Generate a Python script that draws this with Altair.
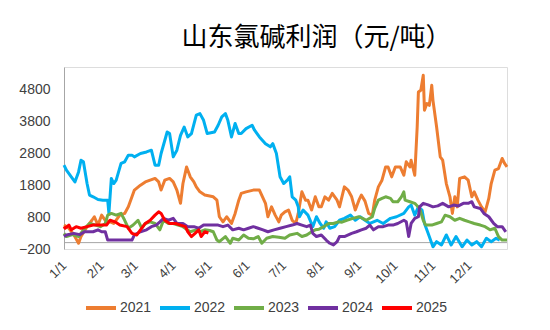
import json
import altair as alt
import pandas as pd

years = ["2021", "2022", "2023", "2024", "2025"]
colors = ["#ED7D31", "#00B0F0", "#70AD47", "#7030A0", "#FF0000"]

month_days = [0, 31, 59, 90, 120, 151, 181, 212, 243, 273, 304, 334]
month_labels = ["1/1", "2/1", "3/1", "4/1", "5/1", "6/1", "7/1", "8/1", "9/1", "10/1", "11/1", "12/1"]
y_ticks = [-200, 800, 1800, 2800, 3800, 4800]

day_2021 = [0, 4, 8, 12, 14, 19, 23, 25, 28, 31, 34, 38, 41, 46, 50, 53, 56, 58, 63, 67, 71, 75, 78, 80, 83, 87, 90, 93, 96, 98,
            101, 104, 107, 109, 112, 116, 123, 126, 128, 131, 134, 138, 141, 144, 146, 150, 156, 161, 166, 168, 171, 174, 177, 179,
            182, 185, 188, 191, 193, 196, 199, 201, 204, 207, 210, 212, 215, 218, 221, 225, 227, 231, 234, 237, 240, 243, 245, 248,
            251, 254, 256, 259, 262, 265, 267, 270, 273, 277, 280, 282, 285, 286, 289, 291, 292, 294, 296, 297, 299, 301, 303, 304,
            307, 310, 312, 315, 318, 320, 322, 324, 326, 330, 333, 336, 338, 341, 344, 347, 350, 352, 355, 358, 361, 363, 365]
val_2021 = [550, 450, 250, -20, 190, 500, 700, 810, 550, 860, 700, 650, 600, 860, 915, 1120, 1435, 1645, 1800, 1900, 1955, 2010, 1900, 1645, 1955, 2010, 1900, 1645, 1230, 1850,
            2370, 2060, 1900, 1745, 1590, 1490, 1435, 1330, 810, 650, 810, 600, 915, 1330, 1540, 1590, 1645, 1645, 1230, 810, 1120, 860, 650, 860,
            965, 1020, 700, 600, 915, 1590, 1330, 1330, 1020, 1435, 1120, 1120, 1435, 1330, 1540, 1330, 1120, 1745, 1645, 1435, 1020, 1330, 1490, 1300,
            915, 860, 1330, 1745, 1955, 2370, 2370, 2060, 2370, 2370, 2110, 2530, 2370, 2580, 2110, 3620, 4715, 4770, 5240, 4145, 4355, 4300, 4925, 4455,
            3620, 2685, 2580, 1850, 1435, 915, 1435, 1120, 2010, 2060, 1955, 1435, 1590, 1330, 1120, 965, 1385, 1850, 2270, 2320, 2635, 2480, 2370]

day_2022 = [0, 2, 6, 9, 12, 14, 16, 19, 21, 24, 28, 32, 36, 37, 39, 41, 43, 47, 50, 53, 56, 58, 63, 68, 72, 75, 78, 80, 85, 87,
            90, 93, 96, 99, 102, 105, 109, 112, 115, 118, 124, 127, 130, 133, 135, 138, 141, 144, 146, 150, 155, 157, 161, 166, 170,
            172, 175, 178, 181, 184, 186, 188, 191, 193, 194, 197, 201, 205, 208, 211, 214, 216, 219, 223, 227, 231, 236, 240, 244,
            248, 252, 258, 263, 269, 274, 280, 284, 286, 289, 292, 295, 297, 300, 304, 307, 311, 315, 319, 323, 328, 332, 336, 340,
            344, 348, 352, 356, 359]
val_2022 = [2425, 2270, 2060, 1900, 2215, 2580, 2530, 1850, 1490, 1435, 1350, 1330, 1330, 915, 2010, 1850, 1955, 2480, 2530, 2740, 2740, 2685, 2790, 2840, 2895, 2425, 2425, 2790, 3465, 3415,
            2685, 2895, 3360, 3620, 3310, 3415, 3990, 4040, 3830, 3415, 3465, 3675, 3935, 4040, 3830, 3310, 3730, 3415, 3415, 3570, 3675, 3520, 3310, 3100, 3000,
            3100, 2790, 2060, 1850, 1955, 2060, 1435, 1330, 1120, 810, 1020, 860, 500, 810, 600, 450, 650, 450, 500, 700, 760, 860, 700, 810,
            700, 600, 700, 600, 760, 810, 915, 1120, 1175, 860, 1120, 1020, 600, 290, -130, 30, -75, 240, -75, 190, -130, 80, -75, 30,
            -130, 135, 30, 135, 80]

day_2023 = [0, 2, 7, 12, 16, 21, 26, 30, 34, 36, 39, 43, 47, 50, 53, 57, 61, 64, 67, 71, 75, 79, 82, 86, 90, 94, 98, 104, 109, 112,
            116, 120, 123, 126, 128, 133, 137, 139, 144, 148, 152, 156, 160, 163, 167, 172, 177, 182, 186, 192, 196, 200, 204, 207,
            210, 214, 218, 222, 226, 229, 233, 238, 243, 246, 249, 254, 256, 259, 262, 265, 269, 271, 275, 278, 280, 281, 285, 289,
            293, 296, 298, 303, 307, 311, 314, 318, 322, 326, 330, 334, 338, 343, 347, 351, 355, 358, 361, 365]
val_2023 = [290, 190, 250, 190, 400, 600, 550, 500, 600, 860, 915, 860, 915, 700, 450, 550, 700, 450, 600, 650, 600, 400, 700, 600, 600, 550, 500, 340, 400, 340,
            400, 380, 340, 80, 30, 190, -20, 135, 80, 240, 135, 120, 190, -20, 135, 190, 170, 135, 240, 290, 190, 240, 340, 400,
            420, 500, 600, 600, 650, 640, 700, 760, 810, 760, 700, 810, 1070, 1330, 1385, 1435, 1385, 1280, 1280, 1435, 1590, 1330, 1280, 1230,
            1070, 700, 550, 550, 600, 650, 860, 810, 700, 760, 700, 650, 600, 550, 500, 400, 450, 190, 80, 80]

day_2024 = [0, 2, 8, 13, 17, 24, 28, 31, 34, 36, 42, 47, 52, 56, 58, 63, 68, 72, 76, 79, 82, 86, 90, 93, 98, 102, 107, 111, 115, 118,
            122, 127, 131, 135, 139, 144, 148, 152, 156, 160, 164, 168, 173, 178, 183, 188, 192, 196, 200, 203, 205, 208, 212, 216,
            219, 222, 225, 227, 231, 237, 241, 245, 249, 252, 255, 259, 263, 267, 271, 275, 280, 282, 284, 286, 289, 292, 293, 296,
            300, 304, 308, 312, 317, 321, 325, 329, 333, 336, 338, 343, 346, 350, 354, 357, 361, 364]
val_2024 = [190, 240, 290, 250, 340, 340, 400, 340, 340, 80, 80, 80, 80, 80, 240, 340, 400, 500, 550, 650, 760, 700, 760, 600, 600, 500, 500, 450, 550, 550,
            550, 550, 500, 550, 400, 450, 400, 450, 500, 450, 400, 340, 400, 450, 500, 550, 600, 550, 500, 550, 290, 190, 240, 80,
            -20, -75, 30, 190, 190, 290, 340, 400, 450, 550, 400, 500, 500, 550, 550, 600, 700, 650, 190, 600, 760, 810, 1120, 1230,
            1180, 1120, 1150, 1230, 1120, 1175, 1150, 1230, 1230, 1280, 1120, 1070, 915, 810, 600, 500, 500, 340]

day_2025 = [0, 1, 4, 6, 10, 14, 19, 24, 30, 35, 38, 42, 46, 52, 56, 60, 63, 67, 71, 75, 78, 80, 83, 87, 92, 96, 100, 102, 105, 108,
            111, 113, 116, 119]
val_2025 = [500, 450, 550, 400, 500, 450, 500, 550, 550, 550, 700, 650, 550, 500, 290, 240, 400, 600, 700, 860, 965, 915, 700, 600, 600, 550, 500, 340, 190, 290,
            400, 190, 340, 300]

series = [("2021", day_2021, val_2021), ("2022", day_2022, val_2022), ("2023", day_2023, val_2023),
          ("2024", day_2024, val_2024), ("2025", day_2025, val_2025)]
rows = []
for yr, ds, vs in series:
    for d, v in zip(ds, vs):
        rows.append({"year": yr, "day": d, "value": v})
df = pd.DataFrame(rows)

label_expr = f"{json.dumps(month_labels)}[indexof({json.dumps(month_days)}, datum.value)]"

y_scale = alt.Scale(domain=[-200, 5500], nice=False, zero=False)
y_axis = alt.Axis(values=y_ticks, format="d", title=None, domain=True, domainColor="#a6a6a6", ticks=False,
                  grid=False, labelFontSize=14, labelFont="Liberation Sans", labelColor="#404040",
                  labelPadding=14, labelOverlap=False, labelFlush=False, labelBound=False)

x_enc = alt.X("day:Q", scale=alt.Scale(domain=[0, 365], nice=False, zero=False),
              axis=alt.Axis(values=month_days, labelExpr=label_expr, title=None, domain=False, ticks=False,
                            grid=False, labelAngle=315, labelAlign="right", labelBaseline="middle",
                            labelFontSize=13, labelFont="Liberation Sans", labelColor="#404040",
                            labelPadding=14, labelFlush=False, labelOverlap=False))

zero_rule = alt.Chart(pd.DataFrame({"z": [0]})).mark_rule(color="#a6a6a6", strokeWidth=1).encode(
    y=alt.Y("z:Q", scale=y_scale, axis=y_axis)
)

lines = alt.Chart(df).mark_line(strokeWidth=3, strokeJoin="round").encode(
    x=x_enc,
    y=alt.Y("value:Q", scale=y_scale, axis=y_axis),
    color=alt.Color("year:N", scale=alt.Scale(domain=years, range=colors),
                    legend=alt.Legend(orient="none", legendX=20, legendY=224, direction="horizontal", title=None,
                                      symbolType="stroke", symbolStrokeWidth=4, symbolSize=900,
                                      labelFontSize=14, labelFont="Liberation Sans", labelColor="#404040",
                                      columnPadding=0, labelOffset=2, padding=0)),
    order=alt.Order("day:Q"),
)

chart = alt.layer(zero_rule, lines).properties(
    width=443, height=182,
    title=alt.TitleParams("山东氯碱利润（元/吨）", fontSize=26, font="Noto Sans CJK SC", fontWeight="normal",
                          color="#000000", offset=16, dx=31, anchor="middle"),
    autosize=alt.AutoSizeParams(type="none"),
    padding={"left": 64, "top": 67, "right": 43, "bottom": 81},
).configure_view(stroke=None).configure_axis(labelOverlap=False).configure(background="white")

chart.save("out.html", embed_options={"renderer": "svg", "actions": False})
